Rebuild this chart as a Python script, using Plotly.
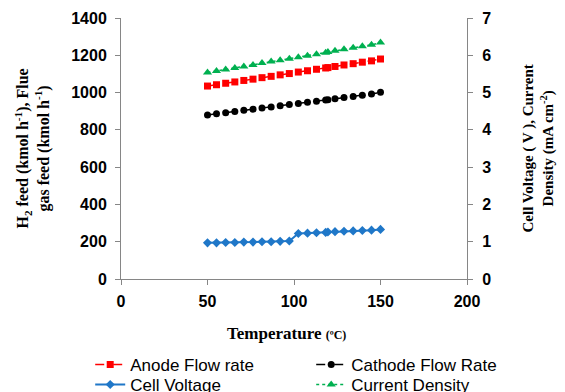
import plotly.graph_objects as go

temperature = [50, 55.2, 60.5, 65.8, 71, 76.3, 81.5, 86.8, 92, 97.3, 102.5,
               107.8, 113, 118.3, 119.6, 123.7, 128.9, 134.2, 139.5, 144.8, 150]
anode_flow = [1035, 1042, 1050, 1057, 1065, 1072, 1080, 1087, 1095, 1102, 1110,
              1117, 1125, 1132, 1134, 1140, 1148, 1155, 1163, 1170, 1180]
cathode_flow = [880, 886, 892, 898, 905, 911, 917, 923, 929, 936, 942,
                948, 954, 960, 962, 967, 973, 979, 985, 992, 1002]
cell_voltage = [0.97, 0.97, 0.98, 0.98, 0.99, 0.99, 1.00, 1.00, 1.01, 1.02, 1.22,
                1.23, 1.24, 1.25, 1.26, 1.27, 1.28, 1.29, 1.30, 1.31, 1.33]
current_density = [5.54, 5.58, 5.62, 5.66, 5.70, 5.74, 5.79, 5.83, 5.87, 5.91, 5.95,
                   5.99, 6.03, 6.07, 6.09, 6.12, 6.16, 6.20, 6.24, 6.28, 6.34]

x_ticks = [0, 50, 100, 150, 200]
y_ticks = [0, 200, 400, 600, 800, 1000, 1200, 1400]
y2_ticks = [0, 1, 2, 3, 4, 5, 6, 7]

fig = go.Figure()
fig.add_trace(go.Scatter(x=temperature, y=anode_flow, name="Anode Flow rate",
                         mode="lines+markers", legend="legend",
                         line=dict(color="#FF0000", width=1.5, dash="dash"),
                         marker=dict(symbol="square", size=7, color="#FF0000")))
fig.add_trace(go.Scatter(x=temperature, y=cathode_flow, name="Cathode Flow Rate",
                         mode="lines+markers", legend="legend",
                         line=dict(color="#000000", width=1.5, dash="dash"),
                         marker=dict(symbol="circle", size=7, color="#000000")))
fig.add_trace(go.Scatter(x=temperature, y=cell_voltage, name="Cell Voltage",
                         mode="lines+markers", yaxis="y2", legend="legend2",
                         line=dict(color="#1F77C8", width=2),
                         marker=dict(symbol="diamond", size=7, color="#1F77C8")))
fig.add_trace(go.Scatter(x=temperature, y=current_density, name="Current Density",
                         mode="lines+markers", yaxis="y2", legend="legend2",
                         line=dict(color="#00B050", width=1.5, dash="dot"),
                         marker=dict(symbol="triangle-up", size=8, color="#00B050")))

axis_common = dict(showline=True, linecolor="#868686", linewidth=1,
                   ticks="outside", tickcolor="#868686", ticklen=5,
                   showgrid=False, zeroline=False,
                   tickfont=dict(family="Liberation Sans", size=16, color="#000000"))

legend_common = dict(orientation="h", xanchor="left", yanchor="middle",
                     entrywidth=176, entrywidthmode="pixels",
                     font=dict(family="Liberation Sans", size=17, color="#000000"),
                     bgcolor="rgba(0,0,0,0)", itemsizing="trace")

fig.update_layout(
    width=557, height=384,
    margin=dict(l=113, r=98, t=10, b=113, autoexpand=False),
    paper_bgcolor="white", plot_bgcolor="white",
    xaxis=dict(range=[0, 200], tickvals=x_ticks, ticklabelstandoff=3,
               ticktext=[f"<b>{v}</b>" for v in x_ticks], **axis_common),
    yaxis=dict(range=[0, 1400], tickvals=y_ticks, ticklabelstandoff=5,
               ticktext=[f"<b>{v}</b>" for v in y_ticks], **axis_common),
    yaxis2=dict(range=[0, 7], tickvals=y2_ticks, overlaying="y", side="right",
                ticklabelstandoff=6,
                ticktext=[f"<b>{v}</b>" for v in y2_ticks], **axis_common),
    showlegend=True,
    legend=dict(x=-0.089, y=-0.3295, **legend_common),
    legend2=dict(x=-0.089, y=-0.406, **legend_common),
    annotations=[
        dict(text="<b>Temperature <span style='font-size:12px'>(ºC)</span></b>",
             xref="paper", yref="paper", x=0.477, y=-0.207,
             xanchor="center", yanchor="middle", showarrow=False,
             font=dict(family="Liberation Serif", size=17, color="#000000")),
        dict(text="<b>H<sub>2</sub> feed (kmol h<sup>-1</sup>), Flue<br>gas feed (kmol h<sup>-1</sup>)</b>",
             xref="paper", yref="paper", x=-0.257, y=0.5, textangle=-90,
             xanchor="center", yanchor="middle", showarrow=False,
             font=dict(family="Liberation Serif", size=16, color="#000000")),
        dict(text="<b>Cell Voltage ( V ), Current<br>Density (mA cm<sup>-2</sup>)</b>",
             xref="paper", yref="paper", x=1.208, y=0.5, textangle=-90,
             xanchor="center", yanchor="middle", showarrow=False,
             font=dict(family="Liberation Serif", size=15, color="#000000")),
    ],
)

fig.write_html("out.html")
